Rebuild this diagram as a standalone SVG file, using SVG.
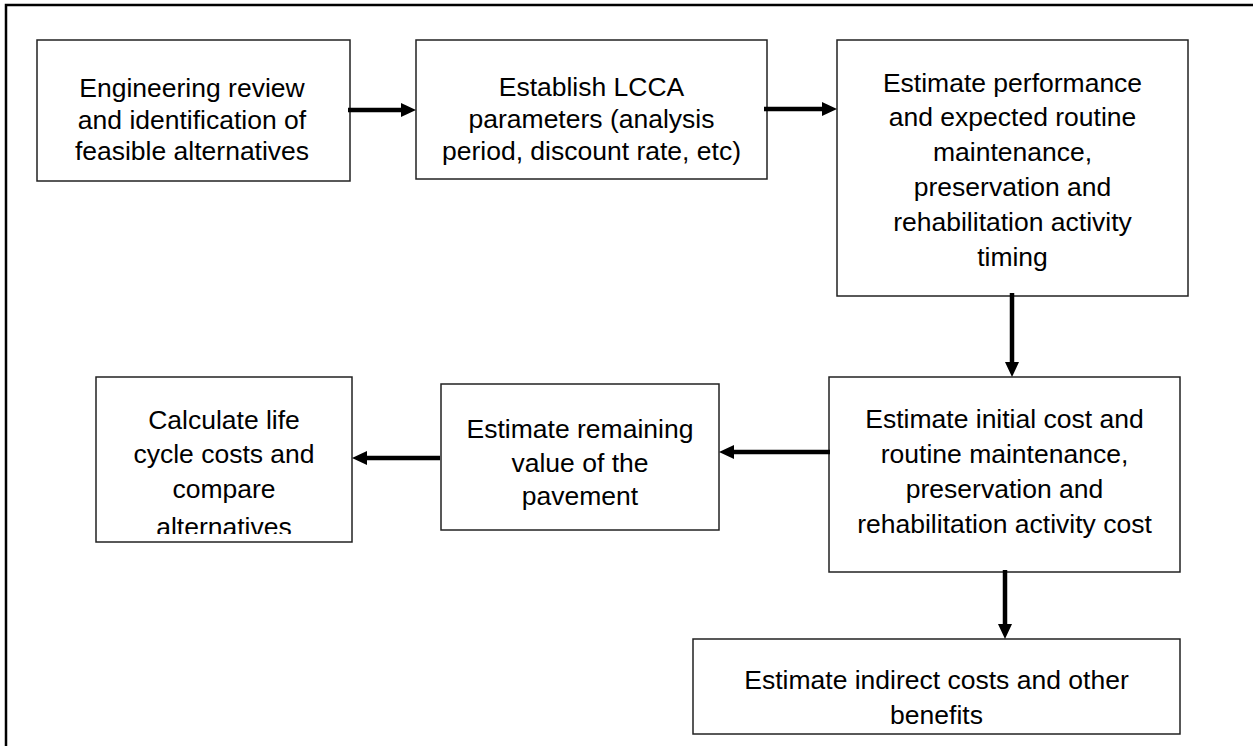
<svg xmlns="http://www.w3.org/2000/svg" width="1253" height="746" viewBox="0 0 1253 746">
  <style>
    .box { fill: #ffffff; stroke: #222222; stroke-width: 1.5; }
    .label { font-family: "Liberation Sans", Arial, sans-serif; font-size: 26.5px; fill: #000000; text-anchor: middle; }
    .frame { fill: none; stroke: #000000; stroke-width: 2.5; }
    .flow { fill: none; stroke: #000000; stroke-width: 4.5; marker-end: url(#head); }
  </style>
  <defs>
    <marker id="head" markerUnits="userSpaceOnUse" viewBox="0 0 15 14" markerWidth="15" markerHeight="14" refX="0" refY="7" orient="auto">
      <polygon points="0,0 15,7 0,14" fill="#000000"/>
    </marker>
    <clipPath id="clip-calc">
      <rect x="96" y="377" width="256" height="157"/>
    </clipPath>
  </defs>

  <rect width="1253" height="746" fill="#ffffff"/>

  <!-- page frame, open on the right and bottom -->
  <path class="frame" d="M6,746 V5 H1253"/>

  <g id="node-engineering-review">
    <rect class="box" x="37" y="40" width="313" height="141"/>
    <text class="label" x="192" y="97">Engineering review</text>
    <text class="label" x="192" y="129">and identification of</text>
    <text class="label" x="192" y="160">feasible alternatives</text>
  </g>

  <g id="node-lcca-parameters">
    <rect class="box" x="416" y="40" width="351" height="139"/>
    <text class="label" x="591.5" y="96">Establish LCCA</text>
    <text class="label" x="591.5" y="128">parameters (analysis</text>
    <text class="label" x="591.5" y="160">period, discount rate, etc)</text>
  </g>

  <g id="node-performance-timing">
    <rect class="box" x="837" y="40" width="351" height="256"/>
    <text class="label" x="1012.5" y="92">Estimate performance</text>
    <text class="label" x="1012.5" y="126">and expected routine</text>
    <text class="label" x="1012.5" y="161">maintenance,</text>
    <text class="label" x="1012.5" y="196">preservation and</text>
    <text class="label" x="1012.5" y="231">rehabilitation activity</text>
    <text class="label" x="1012.5" y="266">timing</text>
  </g>

  <g id="node-activity-cost">
    <rect class="box" x="829" y="377" width="351" height="195"/>
    <text class="label" x="1004.5" y="428">Estimate initial cost and</text>
    <text class="label" x="1004.5" y="463">routine maintenance,</text>
    <text class="label" x="1004.5" y="498">preservation and</text>
    <text class="label" x="1004.5" y="533">rehabilitation activity cost</text>
  </g>

  <g id="node-remaining-value">
    <rect class="box" x="441" y="384" width="278" height="146"/>
    <text class="label" x="580" y="438">Estimate remaining</text>
    <text class="label" x="580" y="472">value of the</text>
    <text class="label" x="580" y="505">pavement</text>
  </g>

  <g id="node-life-cycle-costs">
    <rect class="box" x="96" y="377" width="256" height="165"/>
    <g clip-path="url(#clip-calc)">
      <text class="label" x="224" y="429">Calculate life</text>
      <text class="label" x="224" y="463">cycle costs and</text>
      <text class="label" x="224" y="498">compare</text>
      <text class="label" x="224" y="536">alternatives</text>
    </g>
  </g>

  <g id="node-indirect-costs">
    <rect class="box" x="693" y="639" width="487" height="95"/>
    <text class="label" x="936.5" y="689">Estimate indirect costs and other</text>
    <text class="label" x="936.5" y="724">benefits</text>
  </g>

  <g id="connectors">
    <path class="flow" d="M348,110 H401"/>
    <path class="flow" d="M764,109 H822"/>
    <path class="flow" d="M1012,293 V362"/>
    <path class="flow" d="M830,452 H734"/>
    <path class="flow" d="M440,458 H367"/>
    <path class="flow" d="M1005,570 V624"/>
  </g>
</svg>
